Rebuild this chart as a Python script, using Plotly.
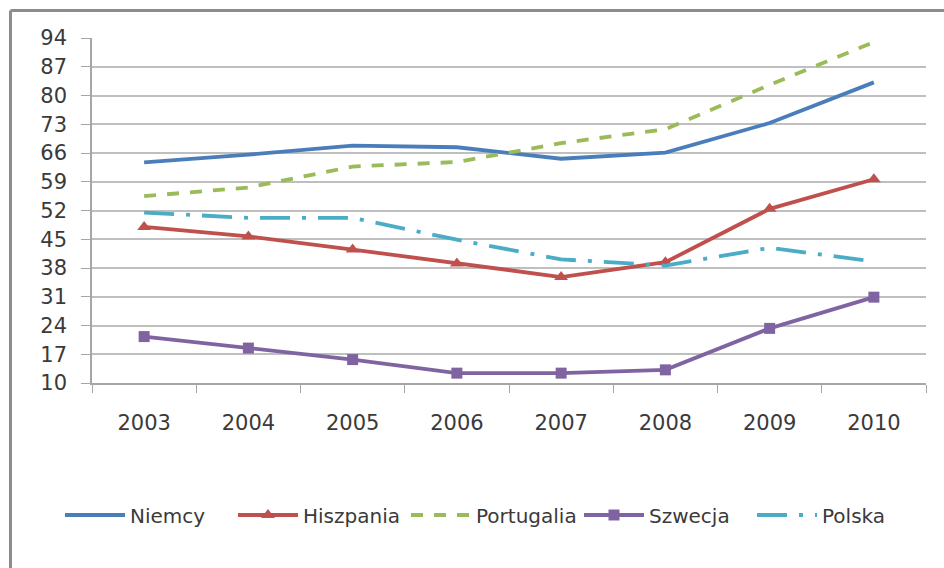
import plotly.graph_objects as go

years = ["2003", "2004", "2005", "2006", "2007", "2008", "2009", "2010"]
niemcy = [63.7, 65.6, 67.8, 67.4, 64.6, 66.1, 73.3, 83.2]
hiszpania = [48.0, 45.7, 42.5, 39.1, 35.8, 39.4, 52.4, 59.6]
portugalia = [55.5, 57.6, 62.7, 63.8, 68.4, 71.8, 82.6, 93.0]
szwecja = [21.3, 18.5, 15.7, 12.4, 12.4, 13.2, 23.3, 30.9]
polska = [51.5, 50.2, 50.2, 44.9, 40.1, 38.6, 42.9, 39.6]
yticks = [10, 17, 24, 31, 38, 45, 52, 59, 66, 73, 80, 87, 94]

FONT = "DejaVu Sans"
TXT = "#3a3a3a"

fig = go.Figure()
fig.add_trace(go.Scatter(x=years, y=niemcy, name="Niemcy", mode="lines",
                         line=dict(color="#4A7EBB", width=3.8)))
fig.add_trace(go.Scatter(x=years, y=hiszpania, name="Hiszpania", mode="lines+markers",
                         line=dict(color="#C0504D", width=3.8),
                         marker=dict(symbol="triangle-up", size=12, color="#C0504D")))
fig.add_trace(go.Scatter(x=years, y=portugalia, name="Portugalia", mode="lines",
                         line=dict(color="#9BBB59", width=3.8, dash="12px,11px")))
fig.add_trace(go.Scatter(x=years, y=szwecja, name="Szwecja", mode="lines+markers",
                         line=dict(color="#8064A2", width=3.8),
                         marker=dict(symbol="square", size=11, color="#8064A2")))
fig.add_trace(go.Scatter(x=years, y=polska, name="Polska", mode="lines",
                         line=dict(color="#4BACC6", width=3.8, dash="30px,12px,4px,12px")))

L, R, T, B = 92, 18, 38, 185
W, H = 944, 568
pw, ph = W - L - R, H - T - B

def px(xp):
    return (xp - L) / pw

def py(yp):
    return (H - B - yp) / ph

fig.update_layout(
    width=W, height=H,
    margin=dict(l=L, r=R, t=T, b=B),
    paper_bgcolor="white", plot_bgcolor="white",
    font=dict(family=FONT, size=21, color=TXT),
    showlegend=True,
    legend=dict(orientation="h", x=px(60), y=py(515), xanchor="left", yanchor="middle",
                font=dict(family=FONT, size=20, color=TXT),
                itemwidth=60, entrywidth=98, entrywidthmode="pixels",
                tracegroupgap=0, bgcolor="rgba(0,0,0,0)"),
    xaxis=dict(type="category", showgrid=False, showline=True, linecolor="#A6A6A6",
               linewidth=1.5, ticks="outside", ticklen=8, tickcolor="#A6A6A6",
               tickson="boundaries", ticklabelstandoff=20,
               tickfont=dict(family=FONT, size=21, color=TXT), range=[-0.5, 7.5]),
    yaxis=dict(range=[10, 94], tickvals=yticks, showgrid=True, gridcolor="#BFBFBF",
               gridwidth=2, showline=True, linecolor="#A6A6A6", linewidth=1.5,
               ticks="outside", ticklen=9, tickcolor="#A6A6A6", zeroline=False,
               ticklabelstandoff=10,
               tickfont=dict(family=FONT, size=21, color=TXT)),
    shapes=[
        dict(type="line", xref="paper", yref="paper", x0=px(10.5), x1=px(10.5),
             y0=py(10.5), y1=py(600), line=dict(color="#8c8c8c", width=3)),
        dict(type="line", xref="paper", yref="paper", x0=px(10.5), x1=px(960),
             y0=py(10.5), y1=py(10.5), line=dict(color="#8c8c8c", width=3)),
    ],
)

fig.write_html("out.html")
